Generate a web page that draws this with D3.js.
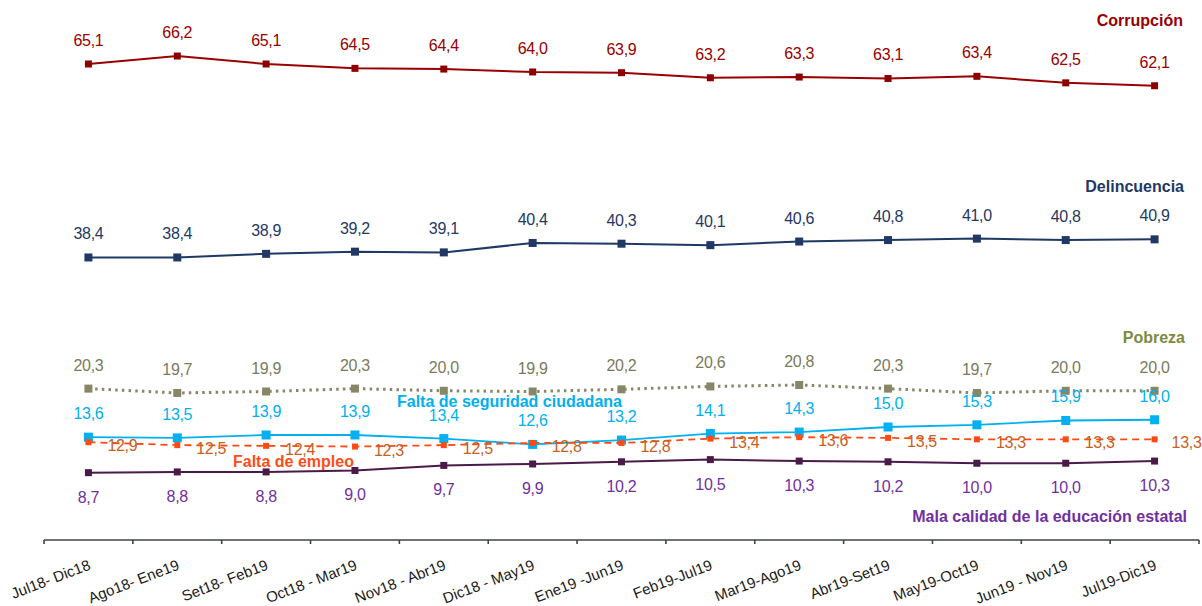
<!DOCTYPE html>
<html>
<head>
<meta charset="utf-8">
<script src="https://cdn.jsdelivr.net/npm/d3@7"></script>
<style>
  body { margin: 0; background: #fff; }
  text { font-family: "Liberation Sans", Arial, sans-serif; }
</style>
</head>
<body>
<script>
var w = 1202
var h = 606

var periods = ["Jul18- Dic18", "Ago18- Ene19", "Set18- Feb19", "Oct18 - Mar19", "Nov18 - Abr19",
  "Dic18 - May19", "Ene19 -Jun19", "Feb19-Jul19", "Mar19-Ago19", "Abr19-Set19",
  "May19-Oct19", "Jun19 - Nov19", "Jul19-Dic19"]

var corrupcion   = [65.1, 66.2, 65.1, 64.5, 64.4, 64.0, 63.9, 63.2, 63.3, 63.1, 63.4, 62.5, 62.1]
var delincuencia = [38.4, 38.4, 38.9, 39.2, 39.1, 40.4, 40.3, 40.1, 40.6, 40.8, 41.0, 40.8, 40.9]
var pobreza      = [20.3, 19.7, 19.9, 20.3, 20.0, 19.9, 20.2, 20.6, 20.8, 20.3, 19.7, 20.0, 20.0]
var seguridad    = [13.6, 13.5, 13.9, 13.9, 13.4, 12.6, 13.2, 14.1, 14.3, 15.0, 15.3, 15.9, 16.0]
var empleo       = [12.9, 12.5, 12.4, 12.3, 12.5, 12.8, 12.8, 13.4, 13.6, 13.5, 13.3, 13.3, 13.3]
var educacion    = [8.7, 8.8, 8.8, 9.0, 9.7, 9.9, 10.2, 10.5, 10.3, 10.2, 10.0, 10.0, 10.3]

var svg = d3.select("body").append("svg")
  .attr("width", w)
  .attr("height", h)

var x = d3.scaleBand().domain(periods).range([44, 1199]).padding(0)
var y = d3.scaleLinear().domain([0, 65.1]).range([535.7, 64])
var cx = function(d, i) { return x(periods[i]) + x.bandwidth() / 2 }

// serie: values, colours, line style, marker size, label placement
var series = [
  {name: "Corrupción", vals: corrupcion, line: "#990000", mark: "#8b0000", txt: "#990000", nameCol: "#990000",
   width: 2, dash: null, size: 7, pos: "above", nx: 1183, ny: 26, anchor: "end"},
  {name: "Delincuencia", vals: delincuencia, line: "#1f3864", mark: "#1f3864", txt: "#1f3864", nameCol: "#1f3864",
   width: 2, dash: null, size: 8, pos: "above", nx: 1184, ny: 192, anchor: "end"},
  {name: "Pobreza", vals: pobreza, line: "#878768", mark: "#878768", txt: "#7a7a5c", nameCol: "#7d8a40",
   width: 3, dash: "2.5,4.2", size: 8, pos: "above", nx: 1185, ny: 343, anchor: "end"},
  {name: "Falta de seguridad ciudadana", vals: seguridad, line: "#00b0f0", mark: "#00b0f0", txt: "#00b0f0", nameCol: "#00b0f0",
   width: 1.8, dash: null, size: 9, pos: "above", nx: 397, ny: 407, anchor: "start"},
  {name: "Falta de empleo", vals: empleo, line: "#ff4a14", mark: "#ff4a14", txt: "#c5601f", nameCol: "#ff4d1a",
   width: 1.8, dash: "7,5", size: 6, pos: "right", nx: 233, ny: 467, anchor: "start"},
  {name: "Mala calidad de la educación  estatal", vals: educacion, line: "#4a1a48", mark: "#4a1a48", txt: "#7030a0", nameCol: "#7030a0",
   width: 2, dash: null, size: 7, pos: "below", nx: 1187, ny: 522, anchor: "end"}
]

// eje x
var axisY = 540
var bounds = d3.range(periods.length + 1).map(function(i) { return x.range()[0] + i * x.step() })
svg.append("line")
  .attr("x1", bounds[0]).attr("x2", bounds[bounds.length - 1])
  .attr("y1", axisY).attr("y2", axisY)
  .attr("stroke", "#3f434a").attr("stroke-width", 1.6)
svg.selectAll(".tick").data(bounds).enter().append("line")
  .attr("x1", function(d) { return d }).attr("x2", function(d) { return d })
  .attr("y1", axisY).attr("y2", axisY + 4)
  .attr("stroke", "#3f434a").attr("stroke-width", 1.6)

svg.selectAll(".xlab").data(periods).enter().append("text")
  .attr("transform", function(d) {
    return "translate(" + (x(d) + x.bandwidth() / 2 + 3) + "," + (axisY + 29) + ") rotate(-21)"
  })
  .attr("text-anchor", "end")
  .attr("font-size", 15)
  .attr("fill", "#1a1a1a")
  .text(function(d) { return d })

var line = d3.line().x(cx).y(function(d) { return y(d) })

series.forEach(function(s) {
  var g = svg.append("g")
  g.append("path")
    .attr("d", line(s.vals))
    .attr("fill", "none")
    .attr("stroke", s.line)
    .attr("stroke-width", s.width)
    .attr("stroke-dasharray", s.dash)
  g.selectAll("rect").data(s.vals).enter().append("rect")
    .attr("x", function(d, i) { return cx(d, i) - s.size / 2 })
    .attr("y", function(d) { return y(d) - s.size / 2 })
    .attr("width", s.size).attr("height", s.size)
    .attr("fill", s.mark)
  g.selectAll("text.v").data(s.vals).enter().append("text")
    .attr("class", "v")
    .attr("x", function(d, i) { return s.pos == "right" ? cx(d, i) + (i == s.vals.length - 1 ? 17 : 19) : cx(d, i) })
    .attr("y", function(d) {
      if (s.pos == "above") return y(d) - 18
      if (s.pos == "below") return y(d) + 30
      return y(d) + 9
    })
    .attr("text-anchor", s.pos == "right" ? "start" : "middle")
    .attr("font-size", 16)
    .attr("letter-spacing", -0.3)
    .attr("fill", s.txt)
    .text(function(d) { return d3.format(".1f")(d).replace(".", ",") })
  g.append("text")
    .attr("x", s.nx).attr("y", s.ny)
    .attr("text-anchor", s.anchor)
    .attr("font-size", 16)
    .attr("font-weight", "bold")
    .attr("fill", s.nameCol)
    .text(s.name)
})
</script>
</body>
</html>
